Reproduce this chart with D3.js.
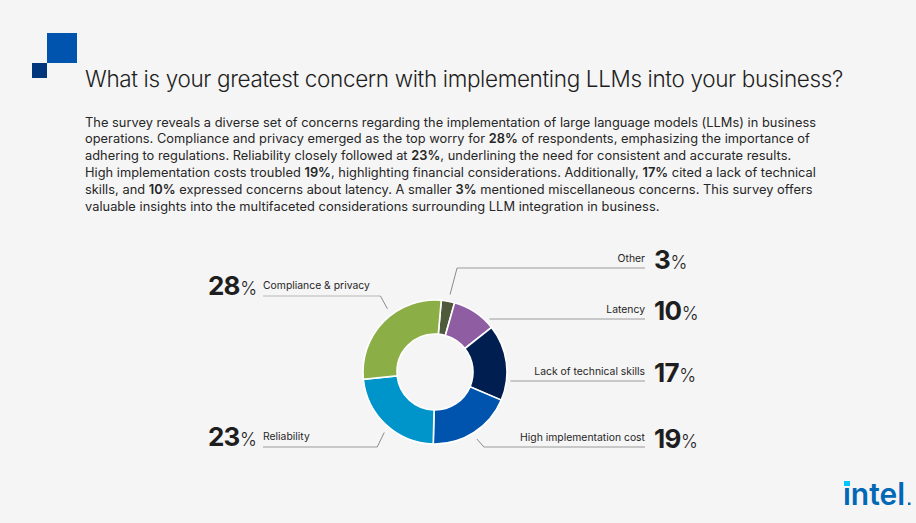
<!DOCTYPE html>
<html><head><meta charset="utf-8">
<script src="https://cdn.jsdelivr.net/npm/d3@7"></script>
<style>
html,body{margin:0;padding:0;background:#f5f5f5;}
svg{display:block;font-family:Inter,"Open Sans",sans-serif;}
</style></head>
<body><svg id="c" width="916" height="523"></svg>
<script>
// ---- data ----
const categories = ["Other","Latency","Lack of technical skills","High implementation cost","Reliability","Compliance & privacy"];
const values = [3,10,17,19,23,28];
const colors = ["#4E5A3A","#8F5DA2","#001E50","#0054AE","#0095CA","#8BAE46"];
const title = "What is your greatest concern with implementing LLMs into your business?";
const paragraphLines = [
  [["The survey reveals a diverse set of concerns regarding the implementation of large language models (LLMs) in business",0]],
  [["operations. Compliance and privacy emerged as the top worry for ",0],["28%",1],[" of respondents, emphasizing the importance of",0]],
  [["adhering to regulations. Reliability closely followed at ",0],["23%",1],[", underlining the need for consistent and accurate results.",0]],
  [["High implementation costs troubled ",0],["19%",1],[", highlighting financial considerations. Additionally, ",0],["17%",1],[" cited a lack of technical",0]],
  [["skills, and ",0],["10%",1],[" expressed concerns about latency. A smaller ",0],["3%",1],[" mentioned miscellaneous concerns. This survey offers",0]],
  [["valuable insights into the multifaceted considerations surrounding LLM integration in business.",0]]
];

// ---- layout ----
const W = 916, H = 523;
const cx = 435, cy = 372, rOuter = 72, rInner = 38;
const startOffset = 5 * Math.PI / 180;
const labelLayout = {
  "Other":                    {side:"right", y:268, type:"diag", ang:11},
  "Latency":                  {side:"right", y:319, type:"flat"},
  "Lack of technical skills": {side:"right", y:381, type:"flat"},
  "High implementation cost": {side:"right", y:447, type:"diag", ang:148},
  "Reliability":              {side:"left",  y:447, type:"diag", ang:220},
  "Compliance & privacy":     {side:"left",  y:296, type:"diag", ang:323, light:true}
};
const rightTextEnd = 645, rightLineStart = 645, rightNumX = 654;
const leftNumX = 208, leftTextX = 263;

const svg = d3.select("#c");
svg.append("rect").attr("width",W).attr("height",H).attr("fill","#f5f5f5");

// corner squares
svg.append("rect").attr("x",47).attr("y",33).attr("width",30).attr("height",30).attr("fill","#0054AE");
svg.append("rect").attr("x",32).attr("y",63).attr("width",15).attr("height",15).attr("fill","#00377C");

// fit helper: keep font size, adjust letter-spacing so the text spans the target width
function fitSpacing(sel, target){
  const n = sel.node();
  const w = n.getComputedTextLength();
  const chars = n.textContent.length;
  sel.attr("letter-spacing", ((target - w)/chars).toFixed(3));
}

// title
const t = svg.append("text").attr("x",85).attr("y",87).attr("fill","#1e1e1e")
  .attr("font-weight",300).attr("font-size",22.5).text(title);
fitSpacing(t, 758);

// paragraph
const para = svg.append("g").attr("fill","#262626");
const pTexts = [];
paragraphLines.forEach((segs,i)=>{
  const tx = para.append("text").attr("x",85).attr("y",126.5+i*16.8).attr("font-size",12.8);
  segs.forEach(s=>tx.append("tspan").attr("font-weight",s[1]?600:400).text(s[0]));
  pTexts.push(tx);
});
{ const n = pTexts[0].node(); const w = n.getComputedTextLength();
  const ls = (731 - w)/n.textContent.length;
  para.selectAll("text").attr("letter-spacing", ls.toFixed(3)); }

// donut
const pie = d3.pie().sort(null).value(d=>d.v).startAngle(startOffset).endAngle(startOffset+2*Math.PI);
const arc = d3.arc().innerRadius(rInner).outerRadius(rOuter);
const data = categories.map((c,i)=>({c, v:values[i], col:colors[i]}));
const arcs = pie(data);
const g = svg.append("g").attr("transform",`translate(${cx},${cy})`);
g.selectAll("path").data(arcs).join("path").attr("d",arc).attr("fill",d=>d.data.col)
  .attr("stroke","#ffffff").attr("stroke-width",1.6);

// labels & leaders
const lab = svg.append("g");
const probe = lab.append("text").attr("font-size",11).text("Compliance & privacy");
const labSize = 11*107/probe.node().getComputedTextLength();
probe.remove();
const rLead = 79;
arcs.forEach(a=>{
  const L = labelLayout[a.data.c];
  if (L.type==="flat") {
    const dy = L.y - cy;
    const ex = cx + Math.sqrt(76*76 - dy*dy);
    lab.append("path").attr("d",d3.line()([[rightLineStart, L.y],[ex, L.y]]))
      .attr("fill","none").attr("stroke","#9a9a9a").attr("stroke-width",1);
  } else {
    const ang = L.ang*Math.PI/180;
    const ex = cx + rLead*Math.sin(ang), ey = cy - rLead*Math.cos(ang);
    const elbowX = L.side==="right" ? ex+7 : ex-7;
    const startX = L.side==="right" ? rightLineStart : leftTextX;
    lab.append("path").attr("d",d3.line()([[startX,L.y],[elbowX,L.y]])).attr("fill","none")
      .attr("stroke", L.light ? "#d6d6d6" : "#9a9a9a").attr("stroke-width", L.light ? 2 : 1);
    lab.append("path").attr("d",d3.line()([[elbowX,L.y],[ex,ey]])).attr("fill","none")
      .attr("stroke","#8a8a8a").attr("stroke-width",1);
  }
  const numTxt = String(a.data.v);
  let nt;
  if (L.side==="right") {
    lab.append("text").attr("x",rightTextEnd).attr("y",L.y-6).attr("text-anchor","end")
      .attr("font-size",labSize).attr("fill","#262626").text(a.data.c);
    nt = lab.append("text").attr("x",rightNumX).attr("y",L.y+1).attr("fill","#1e1e1e");
  } else {
    lab.append("text").attr("x",leftTextX).attr("y",L.y-7).attr("font-size",labSize).attr("fill","#262626").text(a.data.c);
    nt = lab.append("text").attr("x",leftNumX).attr("y",L.y-1).attr("fill","#1e1e1e");
  }
  nt.append("tspan").attr("font-size",26).attr("font-weight",700).attr("letter-spacing",-0.8).text(numTxt);
  nt.append("tspan").attr("font-size",18).attr("font-weight",300).attr("dx",0.5).text("%");
});

// intel logo
const logo = svg.append("g");
const lt = logo.append("text").attr("x",843).attr("y",505).attr("font-size",31).attr("font-weight",600)
  .attr("fill","#0068B5").text("\u0131ntel");
lt.attr("textLength",62).attr("lengthAdjust","spacingAndGlyphs");
logo.append("rect").attr("x",844).attr("y",481).attr("width",6).attr("height",5).attr("fill","#00C7FD");
logo.append("rect").attr("x",908).attr("y",502.5).attr("width",2.5).attr("height",2.5).attr("fill","#0068B5");
</script></body></html>
